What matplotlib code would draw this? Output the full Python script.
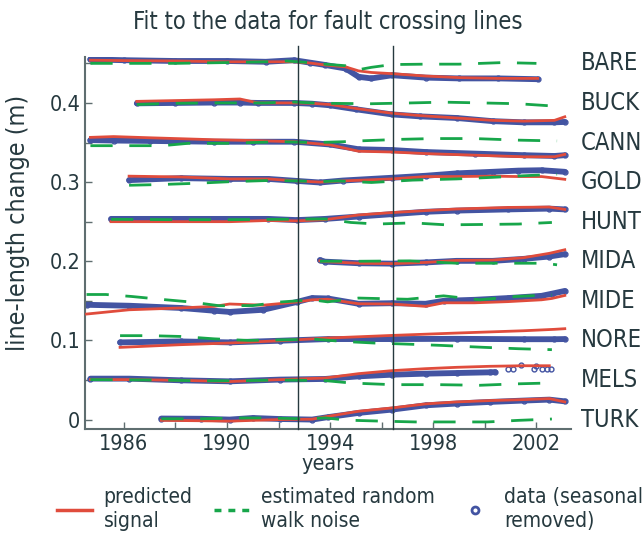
import numpy as np
import matplotlib
matplotlib.use("Agg")
import matplotlib.pyplot as plt
from matplotlib.lines import Line2D

plt.rcParams['font.family'] = ['DejaVu Sans']
plt.rcParams['font.stretch'] = 'condensed'

# line-length change (m) per station, offset by 0.05 m each
# obs = data with seasonal term removed, fit = predicted signal, rw = random walk noise
bare_t = [1984.7, 1986, 1988, 1990, 1991.5, 1992.6, 1993.2, 1993.8, 1994.6, 1995.1, 1995.6, 1996.4, 1997.7, 1999, 2000.5, 2002.05]
bare_obs = [0.455, 0.454, 0.453, 0.453, 0.452, 0.454, 0.451, 0.448, 0.4435, 0.433, 0.431, 0.435, 0.432, 0.431, 0.431, 0.430]
bare_fit = [0.454, 0.4535, 0.453, 0.452, 0.452, 0.452, 0.4505, 0.448, 0.4455, 0.4405, 0.4385, 0.437, 0.434, 0.432, 0.431, 0.431]
bare_rw_t = [1984.7, 1986, 1988, 1990, 1991.5, 1992.3, 1993.2, 1993.8, 1994.6, 1995.1, 1995.6, 1996.4, 1997.7, 1999, 2000.7, 2002.0]
bare_rw = [0.450, 0.450, 0.450, 0.451, 0.452, 0.453, 0.451, 0.449, 0.447, 0.442, 0.445, 0.4485, 0.449, 0.449, 0.451, 0.450]

buck_t = [1986.5, 1988, 1989.5, 1990.5, 1991.2, 1992.6, 1993.3, 1994, 1995, 1996.4, 1997.5, 1998.9, 2000.3, 2001.5, 2002.7, 2003.1]
buck_obs = [0.3995, 0.400, 0.4005, 0.4005, 0.400, 0.400, 0.399, 0.397, 0.392, 0.3855, 0.383, 0.381, 0.377, 0.3755, 0.3755, 0.376]
buck_fit = [0.402, 0.403, 0.404, 0.405, 0.400, 0.400, 0.3995, 0.398, 0.393, 0.387, 0.384, 0.381, 0.378, 0.377, 0.378, 0.3825]
buck_rw_t = [1986.5, 1988, 1989.5, 1990.5, 1991.5, 1992.4, 1993.3, 1994, 1995.6, 1997.1, 1998.4, 1999.9, 2001.3, 2002.7]
buck_rw = [0.398, 0.3995, 0.400, 0.400, 0.400, 0.4015, 0.400, 0.3995, 0.399, 0.400, 0.401, 0.400, 0.399, 0.396]

cann_t = [1984.7, 1985.6, 1987, 1989.5, 1991, 1992.6, 1994, 1995.1, 1996.4, 1997.7, 1999.6, 2001.5, 2002.7, 2003.1]
cann_obs = [0.353, 0.3525, 0.352, 0.351, 0.351, 0.351, 0.3475, 0.3415, 0.3405, 0.338, 0.336, 0.334, 0.333, 0.334]
cann_fit = [0.3565, 0.3575, 0.356, 0.3535, 0.3525, 0.351, 0.347, 0.339, 0.338, 0.336, 0.334, 0.332, 0.332, 0.335]
cann_rw_t = [1984.7, 1987.5, 1988.5, 1990, 1991, 1992.1, 1993.4, 1994.5, 1995.1, 1996.7, 1998, 1999.6, 2001.3, 2002.8]
cann_rw = [0.346, 0.346, 0.349, 0.349, 0.350, 0.351, 0.350, 0.351, 0.352, 0.354, 0.355, 0.355, 0.353, 0.352]

gold_t = [1986.2, 1988.2, 1990.1, 1991.6, 1992.7, 1993.6, 1994.5, 1996.4, 1997.7, 1998.9, 2000.3, 2001.3, 2002.2, 2003.1]
gold_obs = [0.3025, 0.305, 0.304, 0.304, 0.3015, 0.2995, 0.302, 0.3055, 0.308, 0.311, 0.313, 0.3145, 0.315, 0.313]
gold_fit = [0.3075, 0.3065, 0.304, 0.304, 0.3015, 0.300, 0.3015, 0.304, 0.307, 0.307, 0.3075, 0.307, 0.307, 0.3035]
gold_rw_t = [1986.2, 1987.5, 1988.8, 1990.1, 1991.6, 1992.7, 1993.6, 1994.3, 1995.6, 1997.2, 1998.9, 2000.3, 2001.5, 2002.8]
gold_rw = [0.296, 0.297, 0.2985, 0.3005, 0.302, 0.3015, 0.3005, 0.3015, 0.2995, 0.3025, 0.304, 0.306, 0.308, 0.310]

hunt_t = [1985.5, 1988, 1990.1, 1991.6, 1992.7, 1993.8, 1995.1, 1996.4, 1997.7, 1998.9, 2000.9, 2002.5, 2003.1]
hunt_obs = [0.2535, 0.2535, 0.2535, 0.2535, 0.252, 0.2535, 0.2565, 0.2595, 0.2625, 0.264, 0.2655, 0.2665, 0.2655]
hunt_fit = [0.250, 0.250, 0.250, 0.2515, 0.251, 0.2525, 0.2585, 0.2615, 0.264, 0.266, 0.268, 0.2685, 0.2655]
hunt_rw_t = [1985.5, 1988, 1990, 1992, 1993.8, 1994.8, 1995.8, 1997.2, 1998.5, 2000, 2001.3, 2002.6]
hunt_rw = [0.253, 0.2525, 0.2525, 0.253, 0.2535, 0.249, 0.247, 0.2485, 0.246, 0.2465, 0.247, 0.249]

mida_t = [1993.6, 1993.8, 1995.1, 1996.4, 1997.7, 1998.9, 2000.3, 2001.5, 2002.5, 2003.1]
mida_obs = [0.2015, 0.1995, 0.1975, 0.197, 0.1985, 0.2005, 0.2005, 0.203, 0.206, 0.209]
mida_fit = [0.2005, 0.1995, 0.1975, 0.197, 0.1985, 0.201, 0.2015, 0.2045, 0.210, 0.2145]
mida_rw_t = [1993.6, 1995.1, 1997.1, 1998.9, 1999.8, 2001.5, 2002.3, 2002.8]
mida_rw = [0.200, 0.200, 0.2005, 0.1975, 0.1975, 0.1975, 0.1975, 0.1955]

mide_t = [1984.55, 1986.2, 1988.2, 1989.5, 1990.1, 1991.4, 1992.7, 1993.3, 1993.9, 1995.1, 1996.4, 1997.7, 1998.4, 1999.6, 2000.9, 2002.2, 2002.6, 2003.1]
mide_obs = [0.145, 0.1438, 0.141, 0.1375, 0.136, 0.1387, 0.1485, 0.1535, 0.153, 0.1463, 0.147, 0.1463, 0.150, 0.1513, 0.1535, 0.1563, 0.159, 0.1625]
mide_fit = [0.1333, 0.1387, 0.141, 0.143, 0.146, 0.1445, 0.1485, 0.1513, 0.152, 0.1463, 0.146, 0.143, 0.1475, 0.1475, 0.149, 0.1513, 0.153, 0.1568]
mide_rw_t = [1984.55, 1985.3, 1986.3, 1987.4, 1988.6, 1989.7, 1991, 1992.05, 1993.3, 1993.9, 1995.1, 1997, 1998.4, 1999.8, 2001.2, 2002.6]
mide_rw = [0.158, 0.158, 0.1555, 0.152, 0.1485, 0.1438, 0.144, 0.1485, 0.1513, 0.1487, 0.1535, 0.152, 0.1563, 0.1513, 0.1555, 0.1575]

nore_t = [1985.85, 1988.2, 1990.1, 1992.05, 1993.9, 1996.4, 1998.9, 2001.5, 2002.7, 2003.1]
nore_obs = [0.0975, 0.0987, 0.0975, 0.0996, 0.1017, 0.1017, 0.102, 0.1015, 0.1015, 0.1017]
nore_fit = [0.0912, 0.0946, 0.0967, 0.0996, 0.103, 0.1063, 0.1093, 0.1122, 0.114, 0.1148]
nore_rw_t = [1985.85, 1987, 1988.2, 1989.5, 1990.8, 1992, 1993.4, 1994.5, 1995.7, 1996.9, 1998.3, 2000, 2001.3, 2002.6]
nore_rw = [0.106, 0.106, 0.105, 0.102, 0.100, 0.1006, 0.1015, 0.0987, 0.0967, 0.0954, 0.0937, 0.0912, 0.0895, 0.0883]

mels_t = [1984.7, 1986.2, 1988.2, 1990.1, 1992.05, 1993.8, 1995.1, 1996.4, 1997.7, 1998.9, 2000.2, 2000.4]
mels_obs = [0.0517, 0.0517, 0.0496, 0.0483, 0.0505, 0.0513, 0.0546, 0.0567, 0.058, 0.0588, 0.0597, 0.060]
mels_fit_t = [1984.7, 1986.2, 1988.2, 1990.1, 1992.05, 1993.8, 1995.1, 1996.4, 1997.7, 1998.9, 2000.2, 2001.5, 2002.5]
mels_fit = [0.0505, 0.0505, 0.0496, 0.048, 0.0505, 0.0525, 0.058, 0.0618, 0.0643, 0.066, 0.0673, 0.068, 0.068]
mels_rw_t = [1984.7, 1987, 1989, 1990.5, 1992, 1993.8, 1994.8, 1996.4, 1998.2, 1999.8, 2001.1, 2002.5]
mels_rw = [0.0505, 0.050, 0.049, 0.049, 0.050, 0.0492, 0.0462, 0.0441, 0.0441, 0.0433, 0.045, 0.0462]
# sparse late MELS measurements
mels_late_t = [2000.9, 2001.1, 2001.4, 2001.9, 2002.0, 2002.2, 2002.4, 2002.55]
mels_late = [0.0635, 0.0635, 0.0685, 0.0643, 0.0683, 0.0643, 0.064, 0.0643]

turk_t = [1987.45, 1989, 1990.1, 1991, 1992.05, 1993.3, 1993.9, 1995.1, 1996.4, 1997.7, 1998.9, 2000.2, 2001.5, 2002.5, 2003.1]
turk_obs = [0.0013, 0.001, 0.000, 0.002, 0.0007, 0.000, 0.003, 0.0084, 0.0126, 0.018, 0.0202, 0.0223, 0.024, 0.0252, 0.023]
turk_fit = [-0.001, -0.0015, -0.002, -0.001, 0.000, 0.0005, 0.004, 0.0105, 0.0147, 0.0198, 0.0223, 0.024, 0.0252, 0.0265, 0.0223]
turk_rw_t = [1987.45, 1989, 1990.5, 1991.5, 1993, 1993.8, 1994.7, 1996, 1997.3, 1998.8, 2000.1, 2001.3, 2002.6]
turk_rw = [0.001, 0.001, 0.002, 0.002, 0.001, 0.0021, -0.0008, -0.002, -0.003, -0.003, -0.003, -0.001, 0.0007]

# (name, label height, obs t, obs, fit t, fit, rw t, rw)
stations = [
    ('BARE', 0.45, bare_t, bare_obs, bare_t, bare_fit, bare_rw_t, bare_rw),
    ('BUCK', 0.40, buck_t, buck_obs, buck_t, buck_fit, buck_rw_t, buck_rw),
    ('CANN', 0.35, cann_t, cann_obs, cann_t, cann_fit, cann_rw_t, cann_rw),
    ('GOLD', 0.30, gold_t, gold_obs, gold_t, gold_fit, gold_rw_t, gold_rw),
    ('HUNT', 0.25, hunt_t, hunt_obs, hunt_t, hunt_fit, hunt_rw_t, hunt_rw),
    ('MIDA', 0.20, mida_t, mida_obs, mida_t, mida_fit, mida_rw_t, mida_rw),
    ('MIDE', 0.15, mide_t, mide_obs, mide_t, mide_fit, mide_rw_t, mide_rw),
    ('NORE', 0.10, nore_t, nore_obs, nore_t, nore_fit, nore_rw_t, nore_rw),
    ('MELS', 0.05, mels_t, mels_obs, mels_fit_t, mels_fit, mels_rw_t, mels_rw),
    ('TURK', 0.00, turk_t, turk_obs, turk_t, turk_fit, turk_rw_t, turk_rw),
]

# earthquake times
events = [1992.74, 1996.42]

RED = '#e04c3c'
GREEN = '#17a64a'
BLUE = '#4354a2'
INK = '#26393f'
AXC = '#5f6e70'

fig = plt.figure(figsize=(6.44, 5.33), dpi=100)
ax = fig.add_axes([0.132, 0.195, 0.755, 0.698])

for name, lev, ot, ov, ft, fv, rt, rv in stations:
    ax.plot(ot, ov, color=BLUE, lw=4.2, solid_capstyle='round', zorder=2)
    ax.plot(ot, ov, 'o', color=BLUE, mfc='none', ms=3.5, mew=1.0, zorder=2)
    ax.plot(ft, fv, color=RED, lw=2.0, zorder=3)
    ax.plot(rt, rv, color=GREEN, lw=2.0, dashes=(8, 6), zorder=4)
    ax.annotate(name, xy=(1.02, lev), xycoords=('axes fraction', 'data'),
                va='center', ha='left', fontsize=17, color=INK, annotation_clip=False)

ax.plot(mels_late_t, mels_late, 'o', color=BLUE, mfc='none', ms=3.5, mew=1.0, zorder=2)

for ev in events:
    ax.axvline(ev, ymax=1.03, color=INK, lw=1.0, zorder=5, clip_on=False)

ax.set_xlim(1984.49, 2003.35)
ax.set_ylim(-0.012, 0.458)
ax.set_xticks(np.arange(1986, 2003, 2))
ax.set_xticklabels(['1986', '', '1990', '', '1994', '', '1998', '', '2002'])
ax.set_yticks(np.arange(0, 0.46, 0.05))
ax.set_yticklabels(['0', '', '0.1', '', '0.2', '', '0.3', '', '0.4', ''])
ax.tick_params(direction='in', length=5, width=1, color=AXC, labelcolor=INK, labelsize=15.5)
for s in ['top', 'right']:
    ax.spines[s].set_visible(False)
for s in ['left', 'bottom']:
    ax.spines[s].set_color(AXC)
    ax.spines[s].set_linewidth(1.5)

ax.set_xlabel('years', fontsize=15.5, color=INK, labelpad=0)
ax.set_ylabel('line-length change (m)', fontsize=18, color=INK)
ax.yaxis.set_label_coords(-0.113, 0.555)
ax.set_title('Fit to the data for fault crossing lines', fontsize=17, color=INK, pad=20)

handles = [
    Line2D([], [], color=RED, lw=2.5),
    Line2D([], [], color=GREEN, lw=2.5, dashes=(2, 2)),
    Line2D([], [], color=BLUE, marker='o', ls='none', mfc='none', ms=5, mew=2),
]
labels = ['predicted\nsignal', 'estimated random\nwalk noise', 'data (seasonal\nremoved)']
leg = fig.legend(handles, labels, ncol=3, loc='center', bbox_to_anchor=(0.543, 0.045),
                 frameon=False, fontsize=15, handlelength=1.7, columnspacing=1.05,
                 handletextpad=0.55, labelspacing=0.1)
for t in leg.get_texts():
    t.set_color(INK)

fig.savefig('out.png', dpi=100)
